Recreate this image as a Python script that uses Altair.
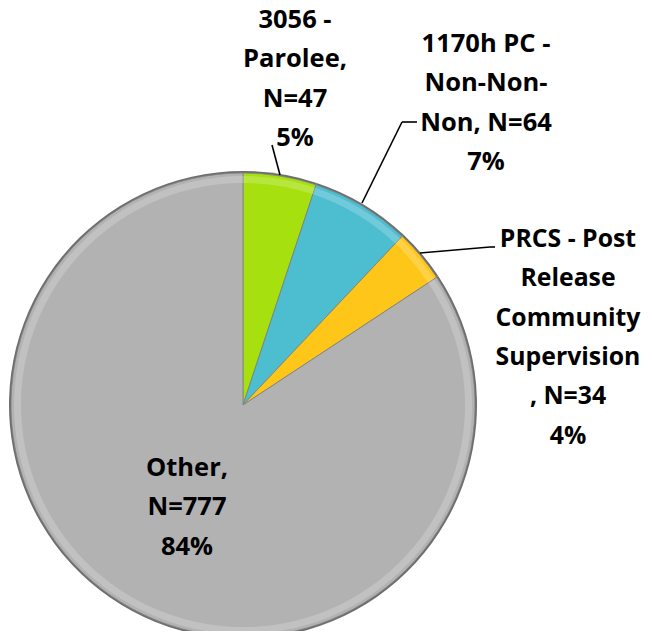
import altair as alt
import pandas as pd

categories = ["3056 - Parolee", "1170h PC - Non-Non-Non",
              "PRCS - Post Release Community Supervision", "Other"]
counts = [47, 64, 34, 777]
percents = ["5%", "7%", "4%", "84%"]
label_texts = [
    "3056 -\nParolee,\nN=47\n5%",
    "1170h PC -\nNon-Non-\nNon, N=64\n7%",
    "PRCS - Post\nRelease\nCommunity\nSupervision\n, N=34\n4%",
    "Other,\nN=777\n84%",
]
colors = ["#a6e00f", "#4dbdd0", "#ffc61a", "#b2b2b2"]

df = pd.DataFrame({"category": categories, "count": counts,
                   "idx": list(range(len(categories))), "label": label_texts})

CX, CY, R = 235, 397, 232
FONT = "Open Sans"
FS = 25.5
LH = 39.3

theta = alt.Theta("count:Q", stack=True)
order = alt.Order("idx:O")
color = alt.Color("category:N", scale=alt.Scale(domain=categories, range=colors), legend=None)
cx, cy = alt.value(CX), alt.value(CY)

base = alt.Chart(df)
edge = base.mark_arc(outerRadius=R + 2, fill="#6e6e6e").encode(theta=theta, order=order, x=cx, y=cy)
slices = base.mark_arc(outerRadius=R, stroke="#808080", strokeWidth=0.8).encode(
    theta=theta, color=color, order=order, x=cx, y=cy)
shine = base.mark_arc(innerRadius=R - 10, outerRadius=R - 3, fill="white", opacity=0.2).encode(
    theta=theta, order=order, x=cx, y=cy)

# label anchor positions (annotation placement)
label_pos = {
    categories[0]: (287, 20, FS),
    categories[1]: (478, 44, FS),
    categories[2]: (560, 239, 24.8),
    categories[3]: (179, 468, FS),
}
texts = []
for cat, (lx, ly, fs) in label_pos.items():
    texts.append(
        base.transform_filter(alt.datum.category == cat).mark_text(
            font=FONT, fontWeight="bold", fontSize=fs, lineBreak="\n", lineHeight=LH,
            align="center", baseline="alphabetic", color="black"
        ).encode(text="label:N", x=alt.value(lx), y=alt.value(ly))
    )

leader_segments = [
    (264, 137, 272, 167),
    (409, 114, 394, 114),
    (394, 114, 354, 195),
    (487, 239, 482, 239),
    (482, 239, 412, 245),
]
rules = []
for x1, y1, x2, y2 in leader_segments:
    rules.append(
        alt.Chart(df.head(1)).mark_rule(color="black", strokeWidth=1.6).encode(
            x=alt.value(x1), y=alt.value(y1), x2=alt.value(x2), y2=alt.value(y2))
    )

chart = alt.layer(edge, slices, shine, *rules, *texts).properties(
    width=638, height=623, autosize=alt.AutoSizeParams(type="none"), padding=0
).configure_view(stroke=None)

chart.save("out.html", embed_options={"renderer": "svg", "actions": False})
